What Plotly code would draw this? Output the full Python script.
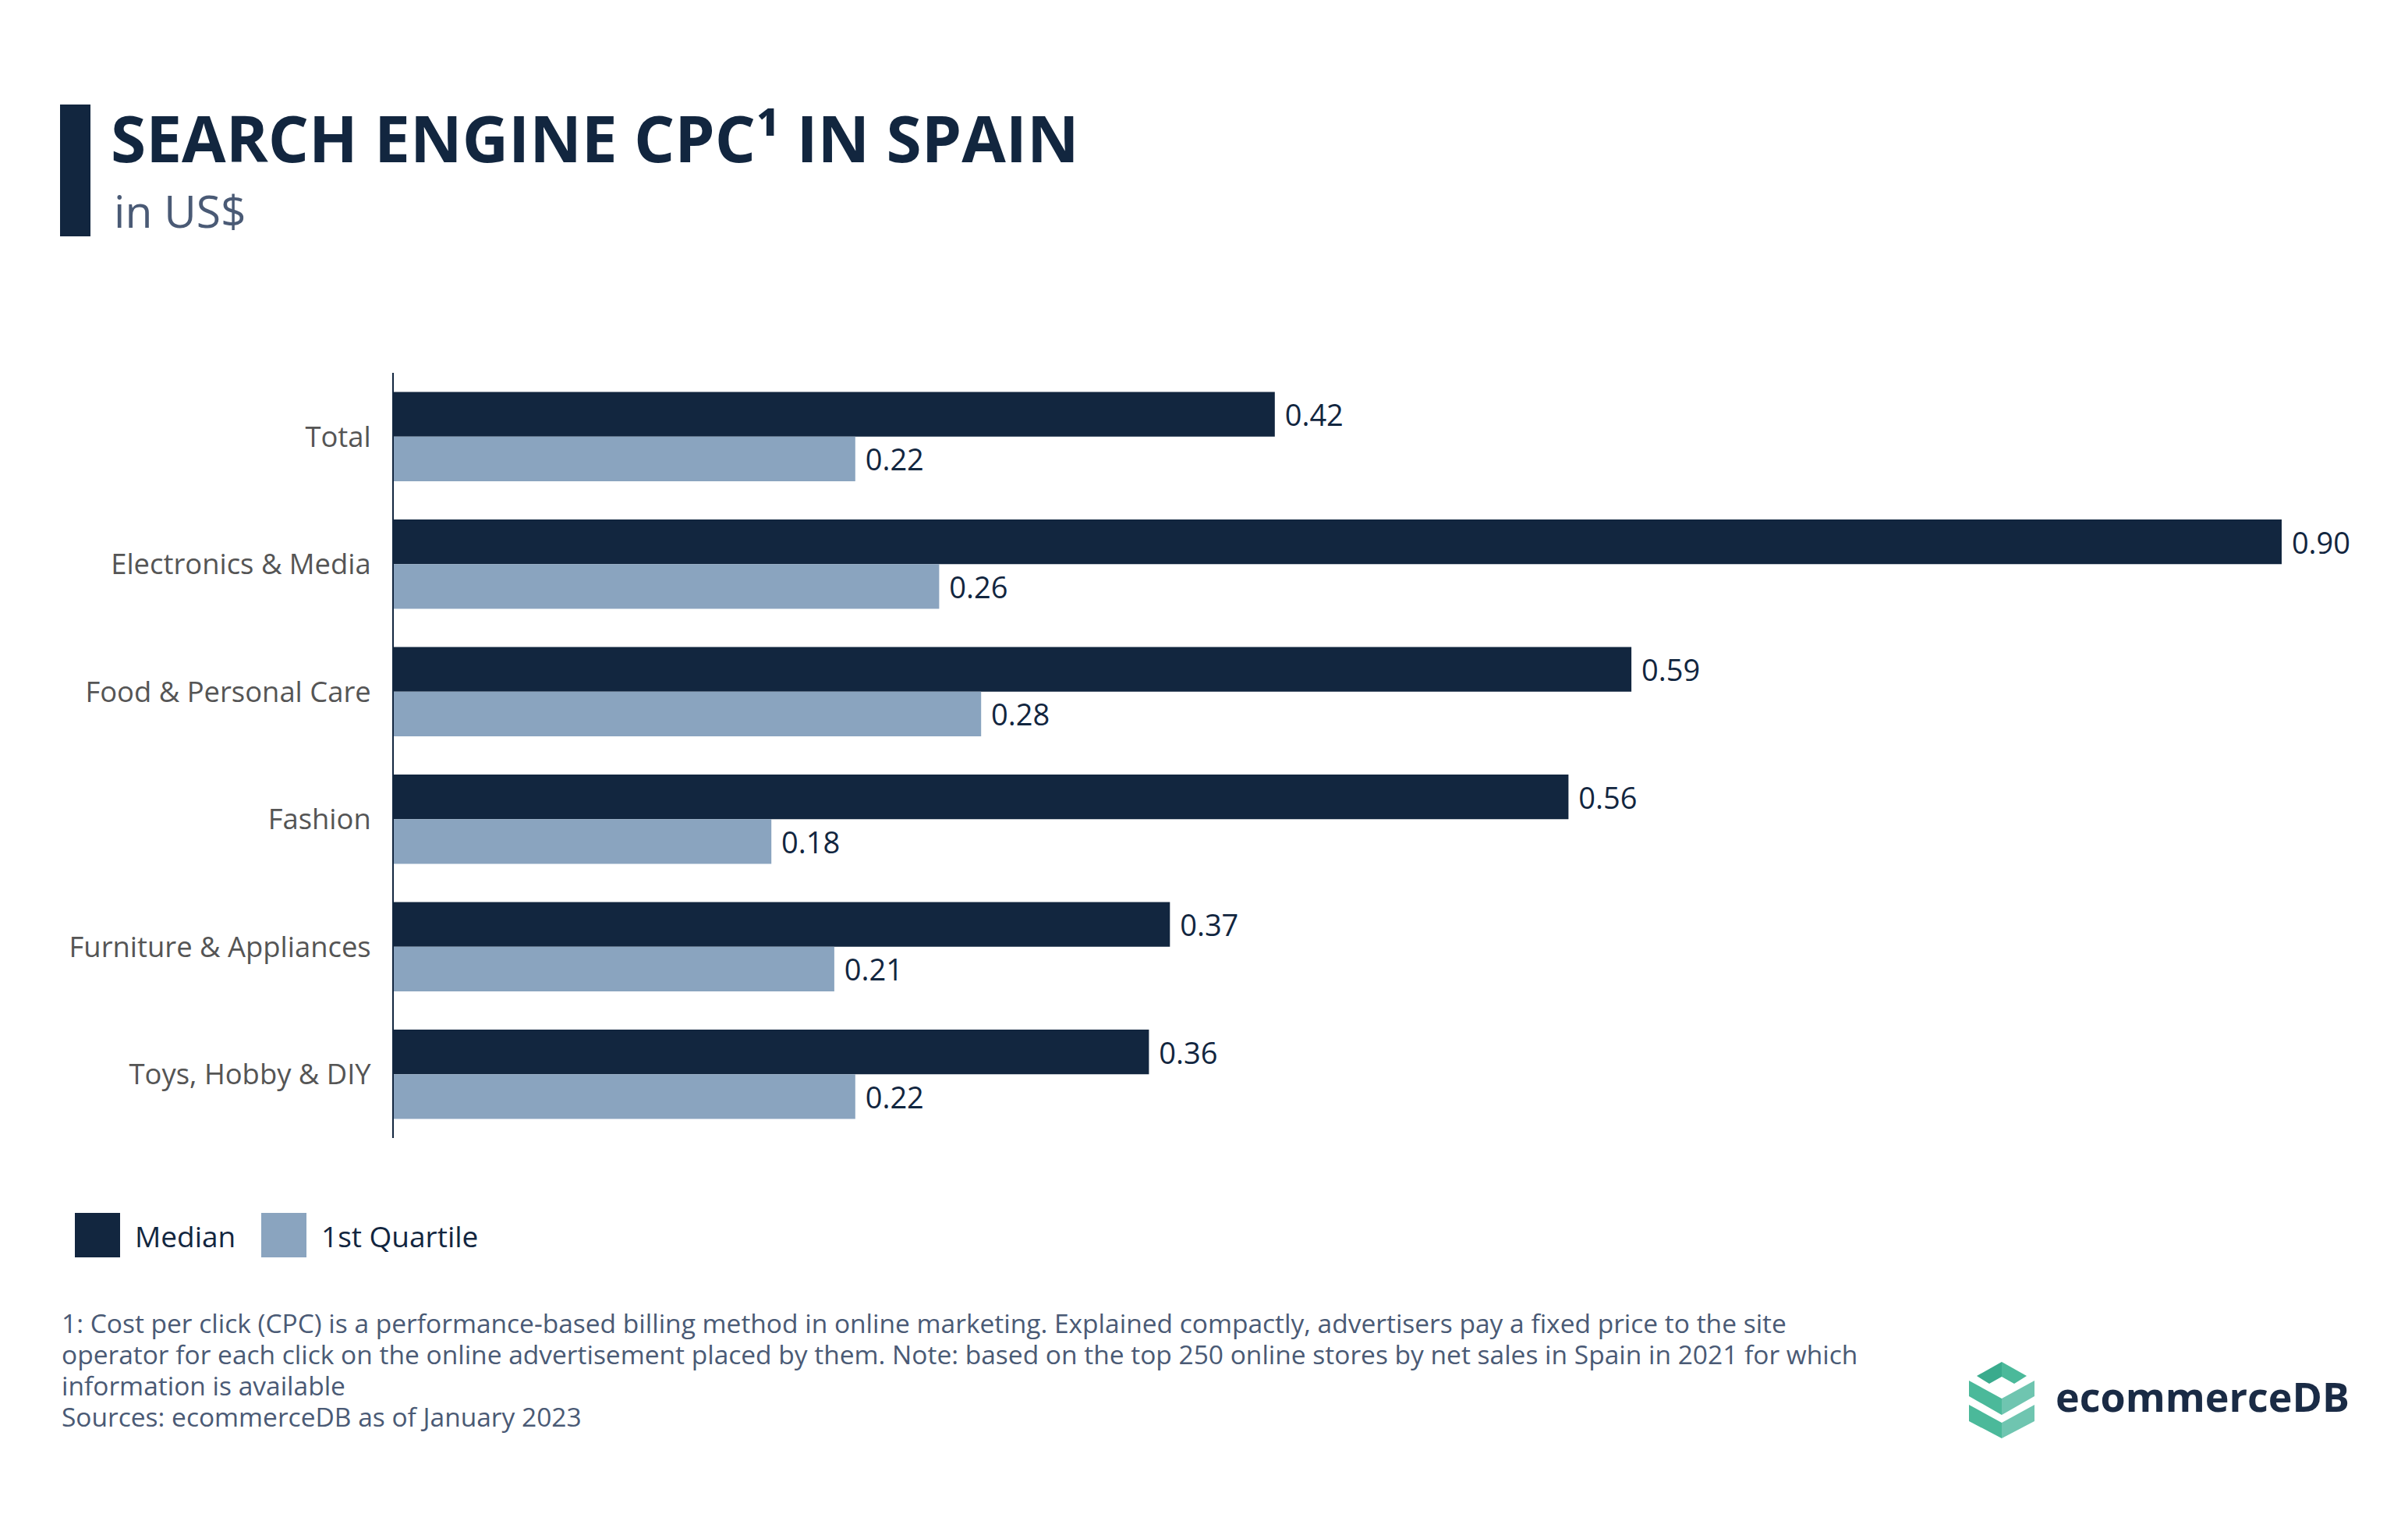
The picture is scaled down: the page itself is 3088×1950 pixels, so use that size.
import plotly.graph_objects as go

categories = ["Total", "Electronics & Media", "Food & Personal Care", "Fashion",
              "Furniture & Appliances", "Toys, Hobby & DIY"]
median = [0.42, 0.90, 0.59, 0.56, 0.37, 0.36]
first_quartile = [0.22, 0.26, 0.28, 0.18, 0.21, 0.22]

W, H = 3088, 1950
OFF = 8  # page body margin offset
ML, MR, MT, MB = 505 - OFF, 88 + OFF, 478 - OFF, 491 + OFF
DARK = "#12263f"
LIGHT = "#8aa4bf"
FONT = "Open Sans"


def px(x):
    return (x - OFF - ML) / (W - ML - MR)


def py(y):
    return (H - MB - (y - OFF)) / (H - MT - MB)


fig = go.Figure()
fig.add_trace(go.Bar(y=categories, x=median, orientation="h", name="Median",
                     marker=dict(color=DARK, line=dict(width=0)),
                     texttemplate=" %{x:.2f}", textposition="outside",
                     textfont=dict(family=FONT, size=38, color=DARK),
                     cliponaxis=False))
fig.add_trace(go.Bar(y=categories, x=first_quartile, orientation="h", name="1st Quartile",
                     marker=dict(color=LIGHT, line=dict(width=0)),
                     texttemplate=" %{x:.2f}", textposition="outside",
                     textfont=dict(family=FONT, size=38, color=DARK),
                     cliponaxis=False))

shapes = []
annotations = []

# title accent bar
shapes.append(dict(type="rect", xref="paper", yref="paper",
                   x0=px(77), x1=px(116), y0=py(134), y1=py(303),
                   fillcolor=DARK, line=dict(width=0)))
annotations.append(dict(text="<b>SEARCH ENGINE CPC¹ IN SPAIN</b>", xref="paper", yref="paper",
                        x=px(140), y=py(176), xanchor="left", yanchor="middle", showarrow=False,
                        font=dict(family=FONT, size=82, color=DARK)))
annotations.append(dict(text="in US$", xref="paper", yref="paper",
                        x=px(144), y=py(270), xanchor="left", yanchor="middle", showarrow=False,
                        font=dict(family=FONT, size=57, color="#4a5a75")))

# custom legend
for x0, label, color, tx in [(96, "Median", DARK, 171), (335, "1st Quartile", LIGHT, 410)]:
    shapes.append(dict(type="rect", xref="paper", yref="paper",
                       x0=px(x0), x1=px(x0 + 58), y0=py(1555), y1=py(1612),
                       fillcolor=color, line=dict(width=0)))
    annotations.append(dict(text=label, xref="paper", yref="paper",
                            x=px(tx), y=py(1584), xanchor="left", yanchor="middle", showarrow=False,
                            font=dict(family=FONT, size=37, color=DARK)))

# footnote
foot_lines = [
    "1: Cost per click (CPC) is a performance-based billing method in online marketing. Explained compactly, advertisers pay a fixed price to the site",
    "operator for each click on the online advertisement placed by them. Note: based on the top 250 online stores by net sales in Spain in 2021 for which",
    "information is available",
    "Sources: ecommerceDB as of January 2023",
]
for line, yy in zip(foot_lines, [1696, 1736, 1776, 1816]):
    annotations.append(dict(text=line, xref="paper", yref="paper",
                            x=px(77), y=py(yy), xanchor="left", yanchor="middle", showarrow=False,
                            font=dict(family=FONT, size=33.5, color="#4a5a75")))

# logo
def poly(points, color):
    d = "M " + " L ".join(f"{px(x)},{py(y)}" for x, y in points) + " Z"
    shapes.append(dict(type="path", xref="paper", yref="paper", path=d,
                       fillcolor=color, line=dict(width=0)))

poly([(2535, 1764), (2567, 1746), (2567, 1765), (2551, 1774)], "#3aab8d")
poly([(2567, 1746), (2599, 1764), (2583, 1774), (2567, 1765)], "#4bb99a")
poly([(2525, 1770), (2567, 1793), (2567, 1814), (2525, 1790)], "#4bb99a")
poly([(2567, 1793), (2609, 1770), (2609, 1790), (2567, 1814)], "#6fc5b0")
poly([(2525, 1801), (2567, 1824), (2567, 1844), (2525, 1822)], "#4bb99a")
poly([(2567, 1824), (2609, 1801), (2609, 1822), (2567, 1844)], "#6fc5b0")
annotations.append(dict(text="<b>ecommerceDB</b>", xref="paper", yref="paper",
                        x=px(2634), y=py(1790), xanchor="left", yanchor="middle", showarrow=False,
                        font=dict(family=FONT, size=52, color="#1a2b45")))

fig.update_layout(
    width=W, height=H,
    margin=dict(l=ML, r=MR, t=MT, b=MB, autoexpand=False),
    paper_bgcolor="white", plot_bgcolor="white",
    barmode="group", bargap=0.3, bargroupgap=0,
    showlegend=False,
    font=dict(family=FONT),
    xaxis=dict(range=[0, (W - ML - MR) / 2690], visible=False, showgrid=False, zeroline=False),
    yaxis=dict(autorange="reversed", showgrid=False, zeroline=False,
               showline=True, linecolor=DARK, linewidth=2,
               ticks="", ticklabelstandoff=20,
               tickfont=dict(family=FONT, size=36.4, color="#555555")),
    shapes=shapes, annotations=annotations,
)

fig.write_html("out.html")
